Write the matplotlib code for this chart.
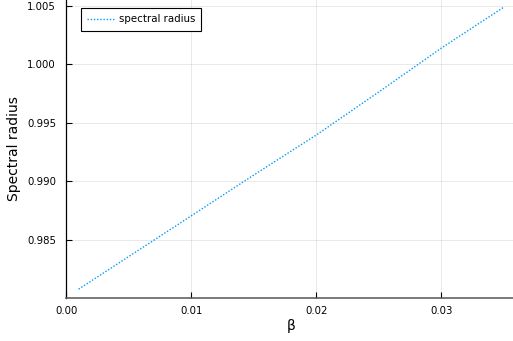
import numpy as np
import matplotlib
matplotlib.use('Agg')
import matplotlib.pyplot as plt

# valores
beta = [0.001, 0.005, 0.010, 0.015, 0.020, 0.025, 0.030, 0.035]
radius = [0.9808, 0.98358, 0.98706, 0.99055, 0.99397, 0.99765, 1.0014, 1.0049]

xticks = [0.00, 0.01, 0.02, 0.03]
xtick_labels = ['0.00', '0.01', '0.02', '0.03']
yticks = [0.985, 0.990, 0.995, 1.000, 1.005]
ytick_labels = ['0.985', '0.990', '0.995', '1.000', '1.005']

plt.rcParams['font.family'] = ['DejaVu Sans']

fig = plt.figure(figsize=(5.13, 3.41), dpi=100)
W, H = 513, 341
x0, x1 = 65.85, 516.6
y_bot, y_top = 297.7, 0.0
ax = fig.add_axes([x0 / W, (H - y_bot) / H, (x1 - x0) / W, (y_bot - y_top) / H])

ax.plot(beta, radius, color='#009AFA', linestyle=(0, (1, 1.3)), linewidth=1.0,
        label='spectral radius')

ax.set_xlim(-0.00002, 0.03602)
ax.set_ylim(0.98007, 1.00551)
ax.set_xticks(xticks)
ax.set_xticklabels(xtick_labels)
ax.set_yticks(yticks)
ax.set_yticklabels(ytick_labels)

ax.tick_params(direction='in', length=4, width=0.8, labelsize=7.3, colors='black')
ax.tick_params(axis='y', pad=7)
ax.tick_params(axis='x', pad=6)

ax.grid(True, color='black', alpha=0.1, linewidth=0.6)
ax.spines['top'].set_visible(False)
ax.spines['right'].set_visible(False)
ax.spines['left'].set_color('black')
ax.spines['left'].set_linewidth(0.9)
ax.spines['bottom'].set_color('#555555')
ax.spines['bottom'].set_linewidth(1.1)

ax.set_xlabel('β', fontsize=10, labelpad=2)
ax.set_ylabel('Spectral radius', fontsize=10, labelpad=4)

leg = ax.legend(loc='upper left', bbox_to_anchor=(80.7 / W, (H - 8.3) / H),
                bbox_transform=fig.transFigure, borderaxespad=0,
                fontsize=7.4, handlelength=2.7, handletextpad=0.4,
                borderpad=0.6, fancybox=False, framealpha=1)
leg.get_frame().set_edgecolor('black')
leg.get_frame().set_linewidth(0.8)

fig.savefig('out.png', dpi=100)
